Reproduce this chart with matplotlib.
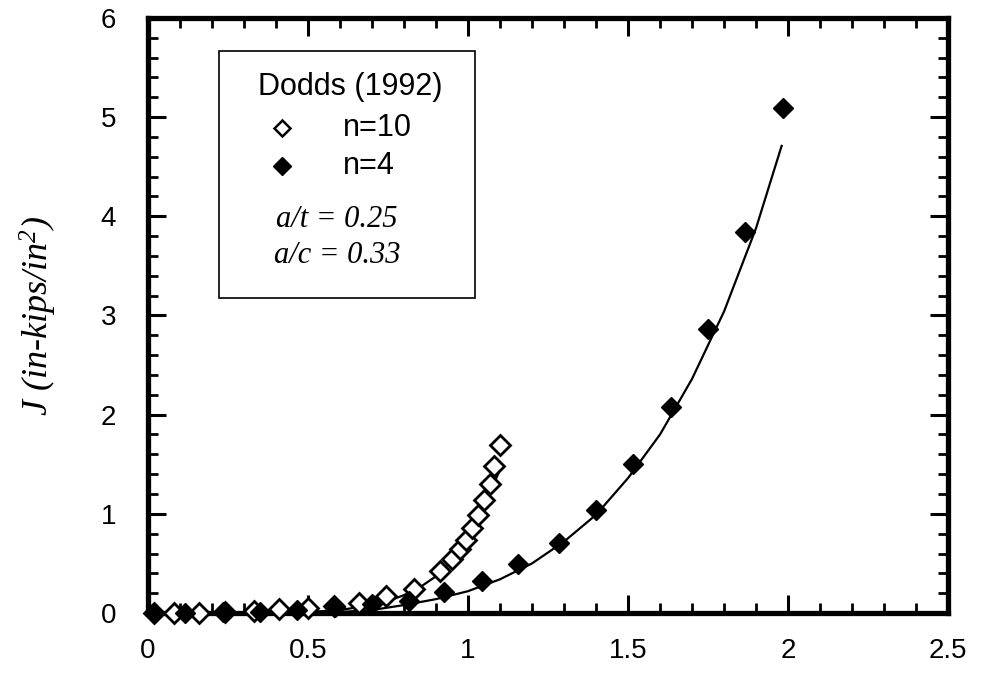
import matplotlib
matplotlib.use("Agg")
import matplotlib.pyplot as plt
from matplotlib.ticker import MultipleLocator, FuncFormatter

# ---- data ----
n10_x = [0.02, 0.08, 0.16, 0.24, 0.33, 0.41, 0.50, 0.58, 0.66, 0.745, 0.83,
         0.914, 0.95, 0.976, 0.995, 1.013, 1.03, 1.049, 1.068, 1.08, 1.10]
n10_y = [0.0, 0.0, 0.0, 0.01, 0.02, 0.04, 0.05, 0.07, 0.10, 0.17, 0.24,
         0.42, 0.54, 0.65, 0.74, 0.86, 0.985, 1.14, 1.30, 1.48, 1.69]

n4_x = [0.02, 0.117, 0.233, 0.35, 0.467, 0.583, 0.70, 0.817, 0.925, 1.044,
        1.155, 1.283, 1.40, 1.517, 1.633, 1.749, 1.867, 1.985]
n4_y = [0.0, 0.0, 0.01, 0.01, 0.03, 0.06, 0.09, 0.12, 0.21, 0.32,
        0.49, 0.71, 1.04, 1.50, 2.08, 2.86, 3.84, 5.09]

fit10_x = [0.50, 0.60, 0.70, 0.75, 0.80, 0.85, 0.90, 0.95, 1.00, 1.03, 1.06, 1.08, 1.105]
fit10_y = [0.01, 0.03, 0.08, 0.12, 0.18, 0.26, 0.37, 0.53, 0.74, 0.92, 1.14, 1.30, 1.48]

fit4_x = [0.60, 0.70, 0.80, 0.90, 1.00, 1.10, 1.20, 1.30, 1.40, 1.50, 1.60,
          1.70, 1.80, 1.90, 1.98]
fit4_y = [0.01, 0.03, 0.08, 0.14, 0.22, 0.34, 0.50, 0.72, 0.99, 1.36, 1.80,
          2.36, 3.04, 3.88, 4.71]

x_ticks = [0, 0.5, 1, 1.5, 2, 2.5]
y_ticks = [0, 1, 2, 3, 4, 5, 6]

sans = ["Liberation Sans", "DejaVu Sans"]
serif = ["Liberation Serif", "DejaVu Serif"]

plt.rcParams["mathtext.fontset"] = "custom"
plt.rcParams["mathtext.rm"] = "Liberation Serif:italic"
plt.rcParams["mathtext.it"] = "Liberation Serif:italic"

fig = plt.figure(figsize=(9.82, 6.79), dpi=100)
ax = fig.add_axes([0.1507, 0.0972, 0.8147, 0.8763])

ax.plot(fit10_x, fit10_y, color="black", lw=1.6, zorder=2)
ax.plot(fit4_x, fit4_y, color="black", lw=1.6, zorder=2)
ax.plot(n10_x, n10_y, linestyle="none", marker="D", ms=10, mfc="white",
        mec="black", mew=2.0, clip_on=False, zorder=3)
ax.plot(n4_x, n4_y, linestyle="none", marker="D", ms=10, mfc="black",
        mec="black", mew=1.0, clip_on=False, zorder=4)

ax.set_xlim(0, 2.5)
ax.set_ylim(0, 6)
ax.set_xticks(x_ticks)
ax.set_yticks(y_ticks)
ax.xaxis.set_minor_locator(MultipleLocator(0.1))
ax.yaxis.set_minor_locator(MultipleLocator(0.2))
fmt = FuncFormatter(lambda v, p: ("%g" % v))
ax.xaxis.set_major_formatter(fmt)
ax.yaxis.set_major_formatter(fmt)

for s in ax.spines.values():
    s.set_linewidth(3.8)
ax.tick_params(which="both", direction="in", top=True, right=True)
ax.tick_params(which="major", length=13, width=2.2, labelsize=20)
ax.tick_params(which="minor", length=7, width=2.0)
ax.tick_params(axis="x", which="major", pad=18)
ax.tick_params(axis="y", which="major", pad=23)
for lab in ax.get_xticklabels() + ax.get_yticklabels():
    lab.set_family(sans)

ax.set_ylabel(r"J (in-kips/in$^2$)", family=serif, style="italic",
              fontsize=26, labelpad=30)

# legend box drawn as text + markers in axes pixel coordinates
def fx(px):
    return (px - 148) / 800.0
def fy(py):
    return (613 - py) / 595.0

box = plt.Rectangle((fx(219), fy(298)), fx(475) - fx(219), fy(51) - fy(298),
                    transform=ax.transAxes, fill=True, facecolor="white",
                    edgecolor="black", lw=1.2, zorder=5)
ax.add_patch(box)
ax.text(fx(350), fy(87), "Dodds (1992)", transform=ax.transAxes, ha="center",
        va="center", fontsize=22, family=sans, zorder=6)
ax.plot([fx(282)], [fy(128)], transform=ax.transAxes, marker="D", ms=8,
        mfc="white", mec="black", mew=1.8, linestyle="none", zorder=6, clip_on=False)
ax.plot([fx(282)], [fy(166)], transform=ax.transAxes, marker="D", ms=9,
        mfc="black", mec="black", mew=1.0, linestyle="none", zorder=6, clip_on=False)
ax.text(fx(343), fy(128), "n=10", transform=ax.transAxes, ha="left",
        va="center", fontsize=22, family=sans, zorder=6)
ax.text(fx(343), fy(166), "n=4", transform=ax.transAxes, ha="left",
        va="center", fontsize=22, family=sans, zorder=6)
ax.text(fx(337), fy(220), "a/t = 0.25", transform=ax.transAxes, ha="center",
        va="center", fontsize=22, family=serif, style="italic", zorder=6)
ax.text(fx(337), fy(256), "a/c = 0.33", transform=ax.transAxes, ha="center",
        va="center", fontsize=22, family=serif, style="italic", zorder=6)

fig.savefig("out.png", dpi=100)
